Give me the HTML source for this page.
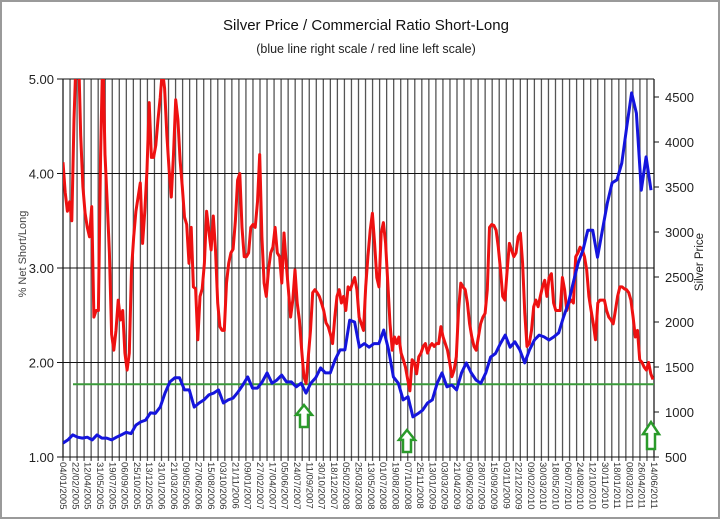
<!DOCTYPE html>
<html><head><meta charset="utf-8"><style>
html,body{margin:0;padding:0;background:#fff}
body{width:720px;height:519px;overflow:hidden;font-family:"Liberation Sans",sans-serif}
#frame{position:absolute;left:0;top:0;width:716px;height:515px;border:2px solid #9a9a9a;background:#fff}
</style></head><body>
<div id="frame"></div>
<svg id="chart" width="720" height="519" style="position:absolute;left:0;top:0"></svg>
<script>
const dateLabels=["04/01/2005","22/02/2005","12/04/2005","31/05/2005","19/07/2005","06/09/2005","25/10/2005","13/12/2005","31/01/2006","21/03/2006","09/05/2006","27/06/2006","15/08/2006","03/10/2006","21/11/2006","09/01/2007","27/02/2007","17/04/2007","05/06/2007","24/07/2007","11/09/2007","30/10/2007","18/12/2007","05/02/2008","25/03/2008","13/05/2008","01/07/2008","19/08/2008","07/10/2008","25/11/2008","13/01/2009","03/03/2009","21/04/2009","09/06/2009","28/07/2009","15/09/2009","03/11/2009","22/12/2009","09/02/2010","30/03/2010","18/05/2010","06/07/2010","24/08/2010","12/10/2010","30/11/2010","18/01/2011","08/03/2011","26/04/2011","14/06/2011"];
const leftTicks=[1,2,3,4,5];
const rightTicks=[500,1000,1500,2000,2500,3000,3500,4000,4500];
const greenLevel=[1.77];
const ratioValues=[4.12,3.8,3.6,3.7,3.5,4.57,5.3,5.3,4.4,3.86,3.58,3.43,3.33,3.65,2.48,2.55,2.55,4.2,5.3,4.2,3.7,3.16,2.3,2.13,2.34,2.66,2.45,2.55,2.1,1.92,2.1,2.98,3.33,3.6,3.75,3.9,3.26,3.6,4.04,4.75,4.17,4.17,4.3,4.57,4.8,5.1,4.9,4.4,4.04,3.75,4.2,4.78,4.57,4.14,3.86,3.54,3.46,3.05,3.43,2.8,2.78,2.24,2.7,2.78,3.05,3.6,3.4,3.19,3.55,3.19,2.63,2.38,2.34,2.34,2.84,3.05,3.16,3.2,3.5,3.93,4.0,3.43,3.12,3.12,3.16,3.43,3.46,3.43,3.7,4.2,3.33,
2.84,2.7,2.98,3.16,3.22,3.43,3.16,3.12,2.84,3.37,3.05,2.77,2.48,2.66,2.98,2.63,2.45,2.13,1.85,1.78,2.06,2.34,2.74,2.77,2.74,2.7,2.63,2.55,2.42,2.38,2.3,2.2,2.48,2.7,2.77,2.63,2.7,2.55,2.8,2.77,2.84,2.9,2.77,2.48,2.41,2.34,2.8,3.12,3.4,3.58,3.26,2.9,2.8,3.37,3.48,3.26,2.84,2.41,2.13,2.27,2.2,2.27,2.1,2.03,1.95,1.82,1.7,2.03,2.0,1.88,2.06,2.1,2.17,2.2,2.1,2.17,2.2,2.17,2.2,2.2,2.38,2.27,2.2,2.13,2.0,1.85,1.92,
2.06,2.55,2.84,2.8,2.77,2.63,2.41,2.27,2.17,2.13,2.27,2.41,2.48,2.52,2.77,3.43,3.46,3.45,3.4,3.22,2.98,2.7,2.66,2.98,3.26,3.19,3.12,3.16,3.33,3.37,3.05,2.52,2.17,2.2,2.34,2.59,2.66,2.59,2.7,2.8,2.87,2.7,2.9,2.94,2.63,2.55,2.55,2.55,2.9,2.77,2.55,2.63,2.66,2.63,3.12,3.16,3.22,3.19,3.12,2.98,2.7,2.55,2.41,2.24,2.63,2.66,2.66,2.66,2.55,2.48,2.45,2.41,2.55,2.7,2.8,2.8,2.78,2.77,2.74,2.66,2.48,2.27,2.34,2.03,2.0,1.95,1.92,2.0,1.88,1.82];
const priceValues=[655,690,745,720,710,720,690,745,710,710,690,720,745,775,760,855,890,910,990,985,1055,1210,1335,1380,1380,1245,1245,1055,1100,1135,1190,1210,1245,1100,1135,1155,1220,1300,1390,1265,1265,1335,1435,
1320,1355,1410,1335,1335,1280,1320,1210,1320,1380,1490,1435,1435,1580,1690,1690,2020,2000,1720,1760,1720,1760,1760,1910,1690,1390,1320,1135,1170,945,980,1020,1100,1135,1320,1435,1280,1300,1245,
1435,1545,1435,1355,1320,1435,1610,1650,1760,1855,1720,1780,1690,1545,1690,1800,1855,1835,1800,1835,1880,2055,2210,2435,2655,2800,3020,3020,2720,3020,3320,3545,3580,3765,4165,4545,4320,3465,3835,3465];
const NS="http://www.w3.org/2000/svg";
const svg=document.getElementById('chart');
const X0=63,X1=654,YT=79,YB=457;
const yL=v=>YB-(v-1)/4*(YB-YT);
const yR=v=>457-(v-500)/1000*90;
function mk(t,a){const e=document.createElementNS(NS,t);for(const k in a)e.setAttribute(k,a[k]);svg.appendChild(e);return e;}
const nV=84;
for(let i=0;i<=nV;i++){const x=X0+i*(X1-X0)/nV;
const l=mk('line',{x1:x,x2:x,y1:YT,y2:YB+4,stroke:'#555','stroke-width':1.3});
}
leftTicks.forEach(v=>{const y=yL(v);
const l=mk('line',{x1:X0-6,x2:X1,y1:y,y2:y,stroke:'#111','stroke-width':1});

const t=mk('text',{x:X0-9,y:y+5,'text-anchor':'end','font-size':13,fill:'#222'});t.textContent=v.toFixed(2);
});
rightTicks.forEach(v=>{const y=yR(v);
const l=mk('line',{x1:X1,x2:X1+5,y1:y,y2:y,stroke:'#111','stroke-width':1});

const t=mk('text',{x:X1+11,y:y+5,'font-size':13,fill:'#222'});t.textContent=v;
});
mk('line',{x1:X0,x2:X0,y1:YT,y2:YB,stroke:'#111','stroke-width':1});
mk('line',{x1:X1,x2:X1,y1:YT,y2:YB,stroke:'#111','stroke-width':1});
dateLabels.forEach((d,i)=>{const x=X0+i*(X1-X0)/(dateLabels.length-1);
const t=mk('text',{x:0,y:0,'font-size':9.5,fill:'#333',transform:`translate(${x-3},${YB+5}) rotate(90)`});t.textContent=d;
});
const gy=yL(greenLevel[0]);
const g=mk('line',{x1:X0+10,x2:X1,y1:gy,y2:gy,stroke:'#3a9a3a','stroke-width':2});

mk('clipPath',{id:'c'}).appendChild(document.createElementNS(NS,'rect'));
const cr=svg.querySelector('#c rect');cr.setAttribute('x',X0);cr.setAttribute('y',YT);cr.setAttribute('width',X1-X0);cr.setAttribute('height',YB-YT);
function series(vals,yf,col,name,xEnd){const pts=vals.map((v,i)=>(X0+i*(xEnd-X0)/(vals.length-1)).toFixed(1)+','+yf(v).toFixed(1)).join(' ');
const p=mk('polyline',{points:pts,fill:'none',stroke:col,'stroke-width':3,'stroke-linejoin':'round','clip-path':'url(#c)'});
}
series(ratioValues,yL,'#ee1111','ratio-line-red',653);
series(priceValues,yR,'#1515dd','silver-price-line-blue',651);
function arrow(cx,top,h){const w=8,hw=16,hh=h*0.45;
const p=mk('polygon',{points:`${cx},${top} ${cx+hw/2},${top+hh} ${cx+w/2},${top+hh} ${cx+w/2},${top+h} ${cx-w/2},${top+h} ${cx-w/2},${top+hh} ${cx-hw/2},${top+hh}`,fill:'#fff',stroke:'#2a9a2a','stroke-width':2.5});
}
arrow(304,405,22);arrow(407,430,22);arrow(651,422,27);
let t=mk('text',{x:366,y:30,'text-anchor':'middle','font-size':15,fill:'#111'});t.textContent='Silver Price / Commercial Ratio Short-Long';

t=mk('text',{x:366,y:53,'text-anchor':'middle','font-size':12.5,fill:'#222'});t.textContent='(blue line right scale / red line left scale)';

t=mk('text',{x:0,y:0,'text-anchor':'middle','font-size':11,fill:'#444',transform:'translate(26,254) rotate(-90)'});t.textContent='% Net Short/Long';

t=mk('text',{x:0,y:0,'text-anchor':'middle','font-size':11.5,fill:'#222',transform:'translate(703,262) rotate(-90)'});t.textContent='Silver Price';

</script>
</body></html>
